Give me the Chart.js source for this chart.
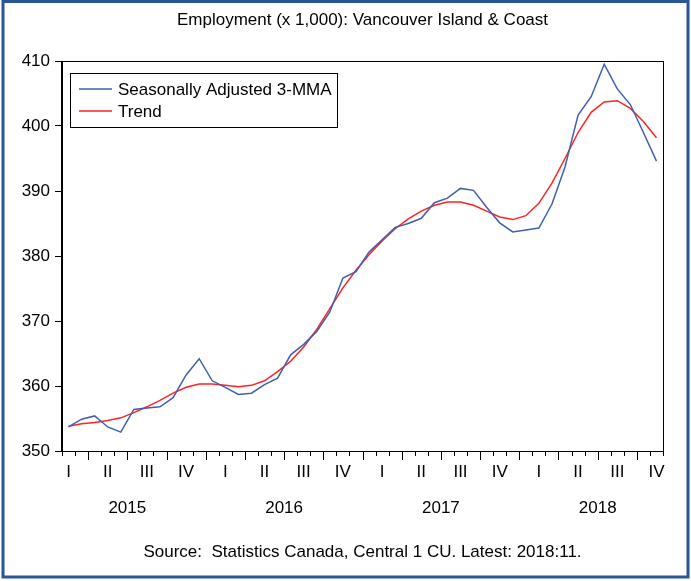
<!DOCTYPE html>
<html>
<head>
<meta charset="utf-8">
<script src="https://cdn.jsdelivr.net/npm/chart.js@4.4.1/dist/chart.umd.min.js"></script>
<style>
  body { margin: 0; background: #fff; }
  canvas { display: block; }
</style>
</head>
<body>
<canvas id="empChart" width="691" height="581"></canvas>
<script>
const months = [
  '2015:02', '2015:03', '2015:04', '2015:05', '2015:06', '2015:07', '2015:08', '2015:09', '2015:10', '2015:11', '2015:12',
  '2016:01', '2016:02', '2016:03', '2016:04', '2016:05', '2016:06', '2016:07', '2016:08', '2016:09', '2016:10', '2016:11', '2016:12',
  '2017:01', '2017:02', '2017:03', '2017:04', '2017:05', '2017:06', '2017:07', '2017:08', '2017:09', '2017:10', '2017:11', '2017:12',
  '2018:01', '2018:02', '2018:03', '2018:04', '2018:05', '2018:06', '2018:07', '2018:08', '2018:09', '2018:10', '2018:11'
];
const quarterLabels = ['I', 'II', 'III', 'IV'];
const years = ['2015', '2016', '2017', '2018'];
const yTicks = [350, 360, 370, 380, 390, 400, 410];

const seasAdj = [
  353.7, 354.9, 355.4, 353.7, 352.9, 356.4, 356.6, 356.8, 358.2, 361.7, 364.2,
  360.8, 359.8, 358.7, 358.9, 360.2, 361.2, 364.8, 366.4, 368.4, 371.4, 376.6, 377.6,
  380.6, 382.5, 384.4, 385.0, 385.8, 388.2, 388.9, 390.4, 390.1, 387.5, 385.1, 383.7,
  384.0, 384.3, 388.0, 393.7, 401.7, 404.5, 409.5, 405.7, 403.3, 399.0, 394.6
];
const trend = [
  353.8, 354.2, 354.4, 354.7, 355.1, 355.9, 356.8, 357.8, 358.9, 359.8, 360.3,
  360.3, 360.1, 359.9, 360.1, 360.8, 362.2, 363.8, 366.0, 368.7, 371.9, 375.1, 377.8,
  380.2, 382.3, 384.2, 385.7, 386.9, 387.8, 388.3, 388.3, 387.8, 386.9, 386.0, 385.6,
  386.2, 388.1, 391.2, 395.0, 399.0, 402.1, 403.7, 403.9, 402.7, 400.7, 398.2
];

const titleText = 'Employment (x 1,000): Vancouver Island & Coast';
const sourceText = 'Source:  Statistics Canada, Central 1 CU. Latest: 2018:11.';

const FONT = "'Liberation Sans', Arial, sans-serif";

function monthOf(label) {
  return parseInt(label.split(':')[1], 10);
}

// outer frame, title/source, plot box, month tick marks, legend box
const decorations = {
  id: 'decorations',
  beforeDraw(chart) {
    const ctx = chart.ctx;
    ctx.save();
    ctx.strokeStyle = '#2A5599';
    ctx.lineWidth = 3;
    ctx.strokeRect(3, 1.5, 685, 575.5);
    ctx.restore();
  },
  afterDraw(chart) {
    const ctx = chart.ctx;
    const area = chart.chartArea;
    const xs = chart.scales.x;
    const cx = (area.left + area.right) / 2;
    ctx.save();

    ctx.fillStyle = '#000';
    ctx.font = '17px ' + FONT;
    ctx.textAlign = 'center';
    ctx.textBaseline = 'middle';
    ctx.fillText(titleText, cx, 20);
    ctx.fillText(sourceText, cx, 552);

    ctx.strokeStyle = '#000';
    ctx.lineWidth = 1;
    ctx.strokeRect(Math.round(area.left) - 0.5, Math.round(area.top) + 0.5,
      Math.round(area.right - area.left) + 1, Math.round(area.bottom - area.top));

    const step = xs.getPixelForValue(1) - xs.getPixelForValue(0);
    ctx.beginPath();
    for (let i = 0; i <= months.length; i++) {
      const x = Math.round(xs.getPixelForValue(i) - step / 2) + 0.5;
      const m = i < months.length ? monthOf(months[i]) : 12;
      const len = (m % 3 === 1) ? 9 : 5;
      ctx.moveTo(x, area.bottom);
      ctx.lineTo(x, area.bottom + len);
    }
    ctx.stroke();

    // legend
    const lx = 70.5, ly = 73.5;
    ctx.fillStyle = '#fff';
    ctx.fillRect(lx, ly, 267, 54);
    ctx.strokeRect(lx, ly, 267, 54);
    ctx.textAlign = 'left';
    chart.data.datasets.forEach((ds, k) => {
      const y = 89 + k * 22;
      ctx.strokeStyle = ds.borderColor;
      ctx.lineWidth = 1.5;
      ctx.beginPath();
      ctx.moveTo(79, y);
      ctx.lineTo(112, y);
      ctx.stroke();
      ctx.fillStyle = '#000';
      ctx.fillText(ds.label, 118, y + 1);
    });
    ctx.restore();
  }
};

new Chart(document.getElementById('empChart'), {
  type: 'line',
  data: {
    labels: months,
    datasets: [
      {
        label: 'Seasonally Adjusted 3-MMA',
        data: seasAdj,
        borderColor: '#3F5FB0',
        borderWidth: 1.5,
        pointRadius: 0,
        tension: 0
      },
      {
        label: 'Trend',
        data: trend,
        borderColor: '#FF2222',
        borderWidth: 1.5,
        pointRadius: 0,
        tension: 0
      }
    ]
  },
  options: {
    responsive: false,
    animation: false,
    layout: { padding: { left: 0, right: 28, top: 61, bottom: 38.2 } },
    plugins: {
      legend: { display: false },
      tooltip: { enabled: false }
    },
    scales: {
      x: {
        type: 'category',
        offset: true,
        grid: { display: false, drawTicks: false },
        border: { display: false },
        ticks: {
          autoSkip: false,
          maxRotation: 0,
          padding: 11,
          color: '#000',
          font: { family: FONT, size: 17 },
          callback: function(value, index) {
            const m = monthOf(months[index]);
            return (m % 3 === 2) ? quarterLabels[(m - 2) / 3] : '';
          }
        },
        afterFit: function(scale) { scale.height = 35; }
      },
      x2: {
        type: 'linear',
        position: 'bottom',
        min: -0.5,
        max: months.length - 0.5,
        grid: { display: false, drawTicks: false },
        border: { display: false },
        ticks: {
          autoSkip: false,
          maxRotation: 0,
          padding: 12,
          color: '#000',
          font: { family: FONT, size: 17 },
          callback: function(value) {
            return years[Math.round((value - 4.5) / 12)];
          }
        },
        afterBuildTicks: function(scale) {
          scale.ticks = years.map((y, i) => ({ value: 4.5 + i * 12 }));
        },
        afterFit: function(scale) { scale.height = 56.8; }
      },
      y: {
        min: 350,
        max: 410,
        grid: { drawOnChartArea: false, tickLength: 7, color: '#000' },
        border: { color: '#000' },
        ticks: {
          stepSize: 10,
          padding: 5,
          color: '#000',
          font: { family: FONT, size: 17 }
        },
        afterBuildTicks: function(scale) {
          scale.ticks = yTicks.map(v => ({ value: v }));
        },
        afterFit: function(scale) { scale.width = 62; }
      }
    }
  },
  plugins: [decorations]
});
</script>
</body>
</html>
